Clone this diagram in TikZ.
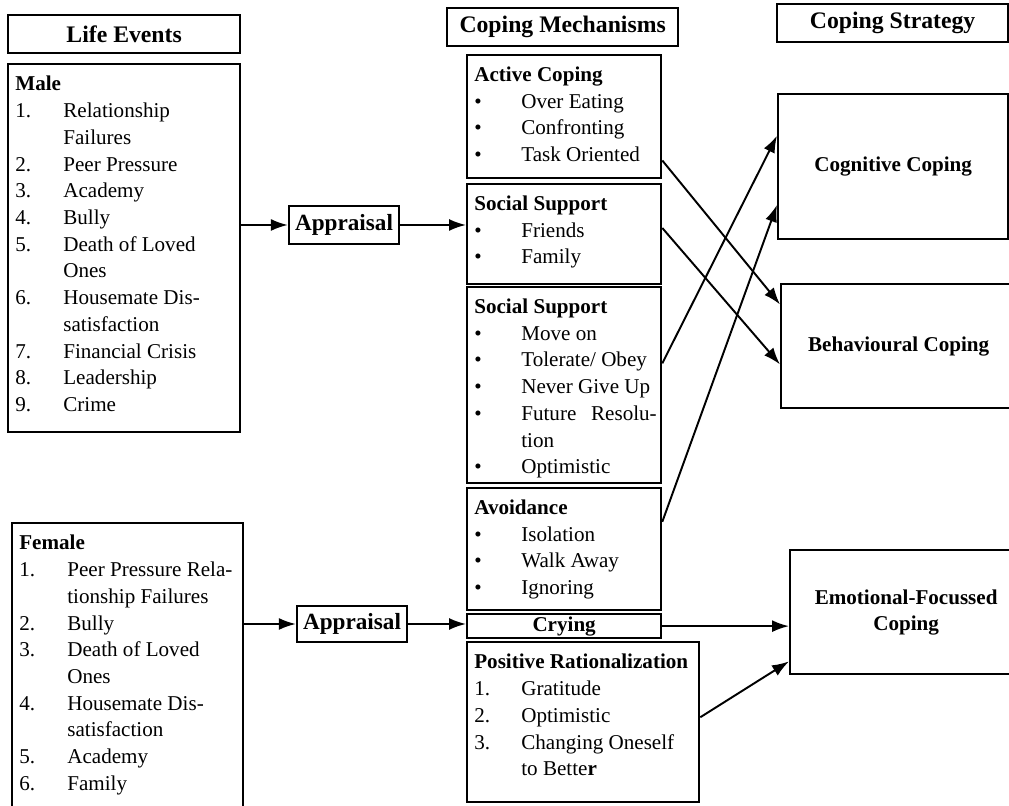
\documentclass[tikz,border=0pt]{standalone}
\usepackage{fontspec}
\setmainfont{Liberation Serif}
\usepackage{tikz}
\usetikzlibrary{calc}
\usetikzlibrary{arrows.meta}
\tikzstyle{every node}=[font=\fontsize{12}{15.2}\selectfont]
\tikzstyle{frame}=[draw, line width=1.3pt, inner sep=0pt]
\tikzstyle{box}=[frame, anchor=north west]
\tikzstyle{bold}=[font=\fontsize{12}{15.2}\selectfont\bfseries]
\tikzstyle{hdr}=[box, font=\fontsize{13.5}{16}\selectfont\bfseries, minimum height=0.76cm]
\tikzstyle{txt}=[anchor=base west, inner sep=0pt]
\tikzstyle{arr}=[line width=1.1pt, -{Latex[length=3.4mm,width=2.4mm]}]

\begin{document}
\begin{tikzpicture}
                \useasboundingbox (0,0) rectangle (20.18,16.12);

                % column heads
                \node[hdr, minimum width=4.64cm] (lifehdr) at (0.14,15.84) {Life Events};
                \node[hdr, minimum width=4.62cm] (mechhdr) at (8.92,15.98) {Coping Mechanisms};
                \node[hdr, minimum width=4.62cm] (strathdr) at (15.52,16.06) {Coping Strategy};

                % life events
                \node[box, minimum width=4.64cm, minimum height=7.36cm] (male) at (0.14,14.86) {};
                \node[txt] (maletxt) at ($(male.north west)+(0.16,-0.56)$) {\begin{tabular}[t]{@{}p{0.96cm}@{}l@{}}
                    \multicolumn{2}{@{}l@{}}{\textbf{Male}}\\
                    1. & Relationship\\
                       & Failures\\
                    2. & Peer Pressure\\
                    3. & Academy\\
                    4. & Bully\\
                    5. & Death of Loved\\
                       & Ones\\
                    6. & Housemate Dis-\\
                       & satisfaction\\
                    7. & Financial Crisis\\
                    8. & Leadership\\
                    9. & Crime
                \end{tabular}};

                \node[box, minimum width=4.62cm, minimum height=6cm] (female) at (0.22,5.68) {};
                \node[txt] (femaletxt) at ($(female.north west)+(0.16,-0.56)$) {\begin{tabular}[t]{@{}p{0.96cm}@{}l@{}}
                    \multicolumn{2}{@{}l@{}}{\textbf{Female}}\\
                    1. & Peer Pressure Rela-\\
                       & tionship Failures\\
                    2. & Bully\\
                    3. & Death of Loved\\
                       & Ones\\
                    4. & Housemate Dis-\\
                       & satisfaction\\
                    5. & Academy\\
                    6. & Family
                \end{tabular}};

                % appraisal
                \node[frame, font=\fontsize{13.2}{16}\selectfont\bfseries, minimum width=2.2cm, minimum height=0.76cm] (appr1) at (6.88,11.62) {Appraisal};
                \node[frame, font=\fontsize{13.2}{16}\selectfont\bfseries, minimum width=2.2cm, minimum height=0.72cm] (appr2) at (7.04,3.64) {Appraisal};

                % coping mechanisms
                \node[box, minimum width=3.88cm, minimum height=2.46cm] (active) at (9.32,15.04) {};
                \node[txt] (activetxt) at ($(active.north west)+(0.16,-0.55)$) {\begin{tabular}[t]{@{}p{0.94cm}@{}l@{}}
                    \multicolumn{2}{@{}l@{}}{\textbf{Active Coping}}\\
                    \textbullet & Over Eating\\
                    \textbullet & Confronting\\
                    \textbullet & Task Oriented
                \end{tabular}};

                \node[box, minimum width=3.88cm, minimum height=2cm] (social1) at (9.32,12.46) {};
                \node[txt] (social1txt) at ($(social1.north west)+(0.16,-0.55)$) {\begin{tabular}[t]{@{}p{0.94cm}@{}l@{}}
                    \multicolumn{2}{@{}l@{}}{\textbf{Social Support}}\\
                    \textbullet & Friends\\
                    \textbullet & Family
                \end{tabular}};

                \node[box, minimum width=3.88cm, minimum height=3.92cm] (social2) at (9.32,10.40) {};
                \node[txt] (social2txt) at ($(social2.north west)+(0.16,-0.55)$) {\begin{tabular}[t]{@{}p{0.94cm}@{}l@{}}
                    \multicolumn{2}{@{}l@{}}{\textbf{Social Support}}\\
                    \textbullet & Move on\\
                    \textbullet & Tolerate/ Obey\\
                    \textbullet & Never Give Up\\
                    \textbullet & Future\hspace{0.7em}Resolu-\\
                                & tion\\
                    \textbullet & Optimistic
                \end{tabular}};

                \node[box, minimum width=3.88cm, minimum height=2.44cm] (avoid) at (9.32,6.38) {};
                \node[txt] (avoidtxt) at ($(avoid.north west)+(0.16,-0.55)$) {\begin{tabular}[t]{@{}p{0.94cm}@{}l@{}}
                    \multicolumn{2}{@{}l@{}}{\textbf{Avoidance}}\\
                    \textbullet & Isolation\\
                    \textbullet & Walk Away\\
                    \textbullet & Ignoring
                \end{tabular}};

                \node[box, bold, minimum width=3.88cm, minimum height=0.48cm] (crying) at (9.32,3.86) {Crying};

                \node[box, minimum width=4.64cm, minimum height=3.2cm] (posrat) at (9.32,3.30) {};
                \node[txt] (posrattxt) at ($(posrat.north west)+(0.16,-0.56)$) {\begin{tabular}[t]{@{}p{0.94cm}@{}l@{}}
                    \multicolumn{2}{@{}l@{}}{\textbf{Positive Rationalization}}\\
                    1. & Gratitude\\
                    2. & Optimistic\\
                    3. & Changing Oneself\\
                       & to Bette\textbf{r}
                \end{tabular}};

                % coping strategy
                \node[box, bold, minimum width=4.6cm, minimum height=2.9cm] (cogn) at (15.54,14.26) {Cognitive Coping};
                \node[box, bold, minimum width=4.7cm, minimum height=2.48cm] (behav) at (15.6,10.46) {Behavioural Coping};
                \node[box, bold, minimum width=4.64cm, minimum height=2.48cm] (emot) at (15.78,5.14) {\begin{tabular}{@{}c@{}}Emotional-Focussed\\ Coping\end{tabular}};

                % arrows
                \draw[arr] (male.east |- appr1) -- (appr1);
                \draw[arr] (appr1) -- (social1.west |- appr1);
                \draw[arr] (female.east |- appr2) -- (appr2);
                \draw[arr] (appr2) -- (crying.west |- appr2);
                \draw[arr] (crying) -- (emot.west |- crying);
                \draw[arr] ($(active.north east)!0.85!(active.south east)$) -- ($(behav.north west)!0.17!(behav.south west)$);
                \draw[arr] ($(social1.north east)!0.44!(social1.south east)$) -- ($(behav.north west)!0.645!(behav.south west)$);
                \draw[arr] ($(social2.north east)!0.39!(social2.south east)$) -- ($(cogn.north west)!0.29!(cogn.south west)$);
                \draw[arr] ($(avoid.north east)!0.28!(avoid.south east)$) -- ($(cogn.north west)!0.76!(cogn.south west)$);
                \draw[arr] ($(posrat.north east)!0.47!(posrat.south east)$) -- ($(emot.north west)!0.89!(emot.south west)$);
            \end{tikzpicture}
\end{document}
